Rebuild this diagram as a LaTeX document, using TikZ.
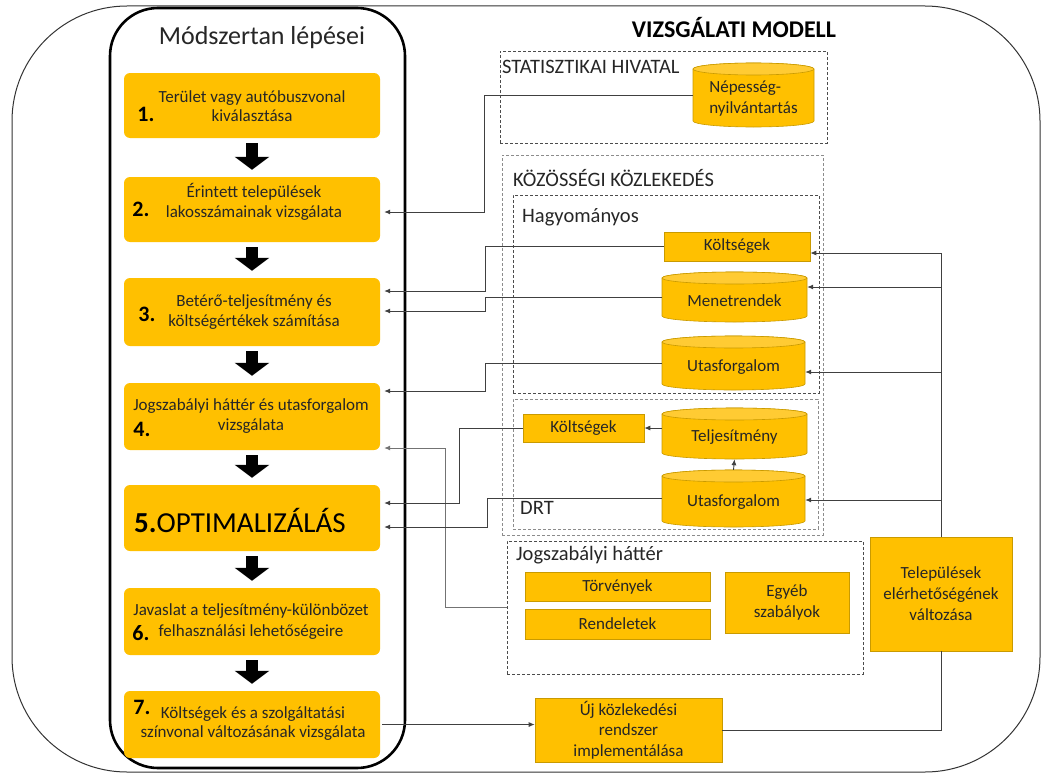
\documentclass[tikz,border=0pt]{standalone}
\usepackage{fontspec}
\setmainfont{Carlito}
\usetikzlibrary{arrows.meta,fit,calc}
\definecolor{stepy}{HTML}{FFC000}
\definecolor{drumbody}{HTML}{FFC000}
\definecolor{drumtop}{HTML}{FFCB33}
\definecolor{gold}{HTML}{C99A00}
\definecolor{txt}{HTML}{262626}

% cylinder: name, left, top, right, bottom, text
\newcommand{\drum}[6]{%
  \pgfmathsetmacro\dcx{(#2+#4)/2}%
  \pgfmathsetmacro\drx{(#4-#2)/2}%
  \pgfmathsetmacro\dtop{#3+6}%
  \pgfmathsetmacro\dbot{#5-6}%
  \path[fill=drumbody,draw=gold,line width=0.6pt]
    (#2,\dtop) -- (#2,\dbot)
    arc[start angle=180,end angle=360,x radius=\drx pt,y radius=6pt]
    -- (#4,\dtop)
    arc[start angle=0,end angle=180,x radius=\drx pt,y radius=6pt] -- cycle;
  \path[fill=drumtop,draw=gold,line width=0.6pt] (\dcx,\dtop) ellipse[x radius=\drx pt,y radius=6pt];
  \node[inner sep=0pt,minimum width={(#4-#2)*1pt},minimum height={(#5-#3)*1pt}] (#1) at ({\dcx},{(#3+#5)/2}) {};
  \node[lbl] (#1-txt) at ({\dcx},{(#3+#5)/2+4}) {#6};
}

\tikzset{
  stepbox/.style={fill=stepy,rounded corners=6pt,inner sep=0pt,minimum width=256pt},
  steptxt/.style={font=\fontsize{17}{19.5}\selectfont,text=txt,align=center,inner sep=0pt},
  num/.style={font=\fontsize{22}{22}\selectfont\bfseries,text=black,inner sep=0pt},
  databox/.style={fill=stepy,draw=gold,line width=0.6pt,inner sep=0pt},
  lbl/.style={font=\fontsize{17}{21}\selectfont,text=txt,align=center,inner sep=0pt},
  grp/.style={draw=black!70,dash pattern=on 3pt off 2pt,line width=0.8pt,inner sep=0pt},
  grplight/.style={draw=black!45,dash pattern=on 3pt off 2pt,line width=0.8pt,inner sep=0pt},
  grplbl/.style={font=\fontsize{20.5}{22}\selectfont,text=txt,anchor=west,inner sep=0pt},
  conn/.style={draw=black!75,line width=0.9pt},
  tip/.style={-{Latex[length=6pt,width=5pt]}},
  flow/.style={line width=12pt,black,-{Triangle[width=34pt,length=13pt]}}
}

\begin{document}
\begin{tikzpicture}[x=1pt,y=-1pt]
\useasboundingbox (0,0) rectangle (1046,776);

% outer frame and method column
\draw[black!80,line width=1pt,rounded corners=115pt] (12,6) rectangle (1040,772);
\draw[black,line width=2.6pt,rounded corners=48pt,fill=white] (110,8) rectangle (405,768);

\node[font=\fontsize{26}{26}\selectfont,text=black!85,inner sep=0pt] (mtitle) at (262,38) {Módszertan lépései};
\node[font=\fontsize{24}{24}\selectfont\bfseries,text=black,inner sep=0pt] (vtitle) at (734,28) {VIZSGÁLATI MODELL};

% method steps
\node[stepbox,minimum height=65pt] (s1) at (252,105.5) {};
\node[stepbox,minimum height=65pt] (s2) at (252,209.5) {};
\node[stepbox,minimum height=68pt] (s3) at (252,312) {};
\node[stepbox,minimum height=67pt] (s4) at (252,416.5) {};
\node[stepbox,minimum height=66pt] (s5) at (252,518) {};
\node[stepbox,minimum height=67pt] (s6) at (252,621.5) {};
\node[stepbox,minimum height=67pt] (s7) at (252,724.5) {};

\node[steptxt] (t1) at (252,106) {Terület vagy autóbuszvonal\\kiválasztása};
\node[num] (n1) at (146,114) {1.};
\node[steptxt] (t2) at (254,202) {Érintett települések\\lakosszámainak vizsgálata};
\node[num] (n2) at (141,209) {2.};
\node[steptxt] (t3) at (254,312) {Betérő-teljesítmény és\\költségértékek számítása};
\node[num] (n3) at (147,314) {3.};
\node[steptxt] (t4) at (251,416) {Jogszabályi háttér és utasforgalom\\vizsgálata};
\node[num] (n4) at (142,429) {4.};
\node[font=\fontsize{29}{29}\selectfont,text=black,inner sep=0pt] (t5) at (240,520) {\textbf{5.}OPTIMALIZÁLÁS};
\node[steptxt] (t6a) at (251,611) {Javaslat a teljesítmény-különbözet};
\node[steptxt] (t6b) at (251,632) {felhasználási lehetőségeire};
\node[num] (n6) at (141,633) {6.};
\node[steptxt] (t7) at (253,723.5) {Költségek és a szolgáltatási\\színvonal változásának vizsgálata};
\node[num] (n7) at (142,707) {7.};

\draw[flow] ([yshift=-5pt]s1.south) -- ([yshift=7pt]s2.north);
\draw[flow] ([yshift=-5pt]s2.south) -- ([yshift=7pt]s3.north);
\draw[flow] ([yshift=-5pt]s3.south) -- ([yshift=7pt]s4.north);
\draw[flow] ([yshift=-5pt]s4.south) -- ([yshift=7pt]s5.north);
\draw[flow] ([yshift=-5pt]s5.south) -- ([yshift=7pt]s6.north);
\draw[flow] ([yshift=-5pt]s6.south) -- ([yshift=7pt]s7.north);

% groups of the model
\node[grp,fit={(500,51) (827,143)}] (stat) {};
\node[grplbl] (statl) at (502,67) {STATISZTIKAI HIVATAL};
\node[grplight,fit={(502,155) (823,535)}] (kk) {};
\node[grplbl] (kkl) at (513,178) {KÖZÖSSÉGI KÖZLEKEDÉS};
\node[grp,fit={(513,195) (819,393)}] (hagy) {};
\node[grplbl] (hagyl) at (522,217) {Hagyományos};
\node[grplight,fit={(513,399) (818,529)}] (drt) {};
\node[grplbl] (drtl) at (520,508) {DRT};
\node[grp,fit={(507,541) (863,674)}] (jog) {};
\node[grplbl] (jogl) at (516,555) {Jogszabályi háttér};

% data sources
\drum{nep}{693}{63}{814}{127}{\begin{tabular}{@{}l@{}}Népesség-\\nyilvántartás\end{tabular}}
\node[databox,minimum width=146pt,minimum height=29pt] (kh) at (737,246.5) {};
\node[lbl] (kh-txt) at (737,246.5) {Költségek};
\drum{men}{662}{272}{807}{322}{Menetrendek}
\drum{uth}{662}{336}{805}{390}{Utasforgalom}
\drum{telj}{662}{408}{807}{459}{Teljesítmény}
\node[databox,minimum width=121pt,minimum height=28pt] (kd) at (583.5,428) {};
\node[lbl] (kd-txt) at (583.5,428) {Költségek};
\drum{utd}{662}{470}{805}{527}{Utasforgalom}

\node[databox,minimum width=185pt,minimum height=29pt] (tor) at (617.5,586.5) {};
\node[lbl] (tor-txt) at (617.5,586.5) {Törvények};
\node[databox,minimum width=185pt,minimum height=30pt] (ren) at (617.5,624) {};
\node[lbl] (ren-txt) at (617.5,624) {Rendeletek};
\node[databox,minimum width=124pt,minimum height=61pt] (egy) at (787,602.5) {};
\node[lbl] (egy-txt) at (787,602.5) {Egyéb\\szabályok};
\node[databox,minimum width=142pt,minimum height=114pt] (telep) at (941,594) {};
\node[lbl] (telep-txt) at (941,594) {Települések\\elérhetőségének\\változása};
\node[databox,minimum width=187pt,minimum height=64pt] (uj) at (628.5,730) {};
\node[lbl,font=\fontsize{17}{20.5}\selectfont] (uj-txt) at (628.5,730) {Új közlekedési\\rendszer\\implementálása};

% data flows into the method steps
\draw[conn,tip] (nep.west) -- (484,95) |- ([xshift=4pt,yshift=-2.5pt]s2.east);
\draw[conn,tip] (kh.west) -- (485,246.5) |- ([xshift=4pt,yshift=21pt]s3.east);
\draw[conn,tip] (men.west) -- (485,297) |- ([xshift=4pt,yshift=1pt]s3.east);
\draw[conn,tip] (uth.west) -- (485,363) |- ([xshift=4pt,yshift=25.5pt]s4.east);
\draw[conn,draw=black!55,tip] (jog.west) -- (445,607.5) |- ([xshift=4pt,yshift=-31.5pt]s4.east);
\draw[conn,tip] (kd.west) -- (459,428) |- ([xshift=4pt,yshift=15pt]s5.east);
\draw[conn,tip] (utd.west) -- (487,498.5) |- ([xshift=4pt,yshift=-9pt]s5.east);

% DRT internal flows
\draw[conn,tip] (utd.north) -- (telj.south);
\draw[conn,tip] (telj.west |- kd.east) -- (kd.east);

% feedback from the accessibility change
\coordinate (khin) at ([yshift=-6.5pt]kh.east);
\coordinate (menin) at ([yshift=10pt]men.east);
\coordinate (uthin) at ([yshift=-9pt]uth.east);
\coordinate (utdin) at ([yshift=-1.5pt]utd.east);
\draw[conn,tip] (telep.north) |- (khin);
\draw[conn,tip] (menin -| telep.north) -- (menin);
\draw[conn,tip] (uthin -| telep.north) -- (uthin);
\draw[conn,tip] (utdin -| telep.north) -- (utdin);

% implementation loop
\draw[conn,tip] ([xshift=2pt]s7.east) -- (s7.east -| uj.west);
\draw[conn] (uj.east) -| (telep.south);
\end{tikzpicture}
\end{document}
